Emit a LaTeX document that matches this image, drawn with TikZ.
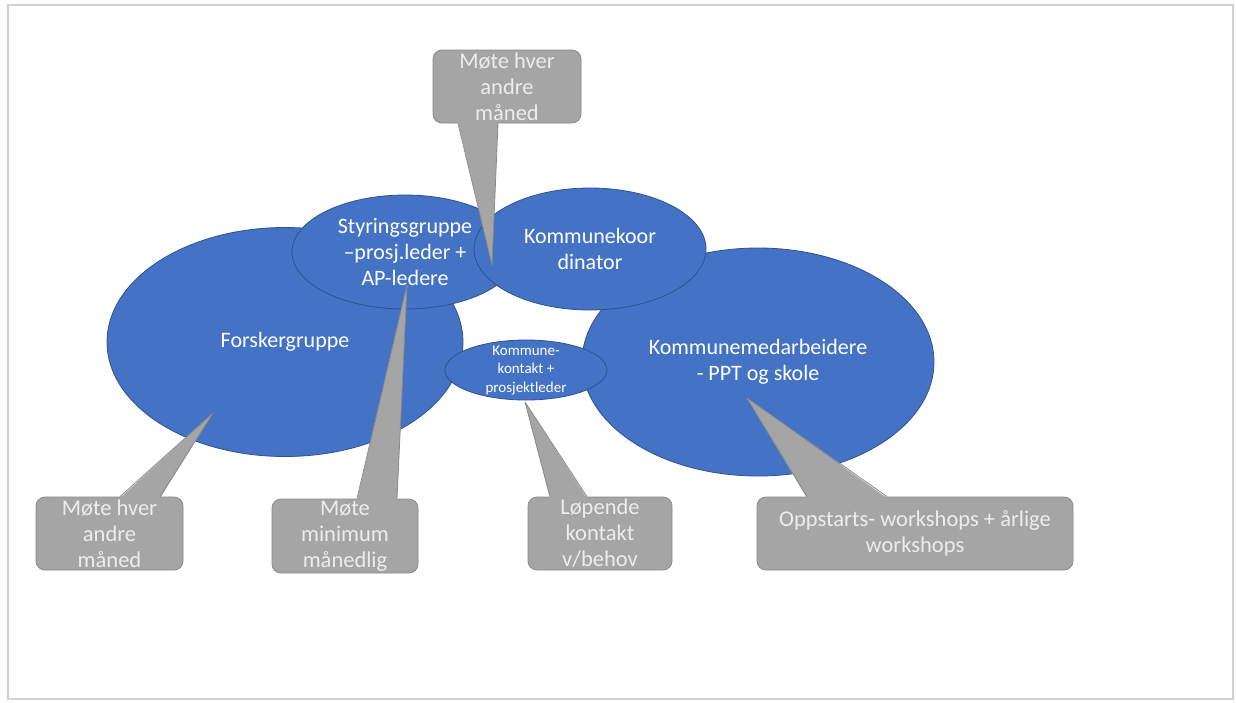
\documentclass[tikz,border=0pt]{standalone}
\usepackage{fontspec}
\setmainfont{Carlito}
\usetikzlibrary{shapes.geometric}
\definecolor{officeblue}{HTML}{4472C4}
\definecolor{blueedge}{HTML}{2F528F}
\definecolor{callgray}{HTML}{A5A5A5}
\definecolor{calledge}{HTML}{8A8A8A}
\tikzset{
  group/.style={ellipse,fill=officeblue,draw=blueedge,line width=0.8pt,text=white,align=center,inner sep=0pt,font=\fontsize{22}{26}\selectfont},
  callout/.style={rectangle,rounded corners=9pt,fill=callgray,draw=calledge,line width=0.8pt,text=white!93!black,align=center,inner sep=0pt,font=\fontsize{22.5}{26}\selectfont},
  pointer/.style={fill=callgray},
  pointeredge/.style={draw=calledge,line width=0.8pt,line join=round}
}
\begin{document}
\begin{tikzpicture}[x=1pt,y=-1pt]
    \fill [white] (0,0) rectangle (1236,702);
    \draw [black!18,line width=2pt] (8,5) rectangle (1233,699);
    % groups
    \node [group,minimum width=356pt,minimum height=229pt] (forsker) at (285,342) {Forskergruppe};
    \node [group,minimum width=352pt,minimum height=228pt] (medarb) at (758,362) {Kommunemedarbeidere\\- PPT og skole};
    \node [group,minimum width=226pt,minimum height=114pt] (styring) at (405,252) {Styringsgruppe\\–prosj.leder +\\AP-ledere};
    \node [group,minimum width=232pt,minimum height=122pt] (koord) at (590,249) {Kommunekoor\\dinator};
    \node [group,minimum width=162pt,minimum height=60pt,inner sep=-6pt,font=\fontsize{15}{18.5}\selectfont] (kontakt) at (526,370) {Kommune-\\kontakt +\\prosjektleder};
    % callouts
    \node [callout,minimum width=148pt,minimum height=73pt] (moteA) at (507,86.5) {Møte hver\\andre\\måned};
    \node [callout,minimum width=147pt,minimum height=73pt] (moteB) at (109.5,533.5) {Møte hver\\andre\\måned};
    \node [callout,minimum width=146pt,minimum height=74pt] (moteC) at (345,536) {Møte\\minimum\\månedlig};
    \node [callout,minimum width=144pt,minimum height=73pt] (lopende) at (600,533.5) {Løpende\\kontakt\\v/behov};
    \node [callout,minimum width=316pt,minimum height=73pt] (workshop) at (915,533.5) {Oppstarts- workshops + årlige\\workshops};
    \coordinate (tipA) at (492,265);
    \coordinate (tipB) at (213,413);
    \coordinate (tipC) at (407,285);
    \coordinate (tipD) at (525,402);
    \coordinate (tipE) at (747,398);
    \foreach \bx/\side/\tip/\a/\b/\d in {moteA/south/tipA/-49/-9/1.5,moteB/north/tipB/10.5/50.5/-1.5,moteC/north/tipC/12/52/-1.5,lopende/north/tipD/-50/-13/-1.5,workshop/north/tipE/-108/-28/-1.5}
    {
        \fill [pointer] ([xshift=\a pt,yshift=\d pt]\bx.\side) -- (\tip) -- ([xshift=\b pt,yshift=\d pt]\bx.\side) -- cycle;
        \draw [pointeredge] ([xshift=\a pt]\bx.\side) -- (\tip) -- ([xshift=\b pt]\bx.\side);
    }
\end{tikzpicture}
\end{document}
